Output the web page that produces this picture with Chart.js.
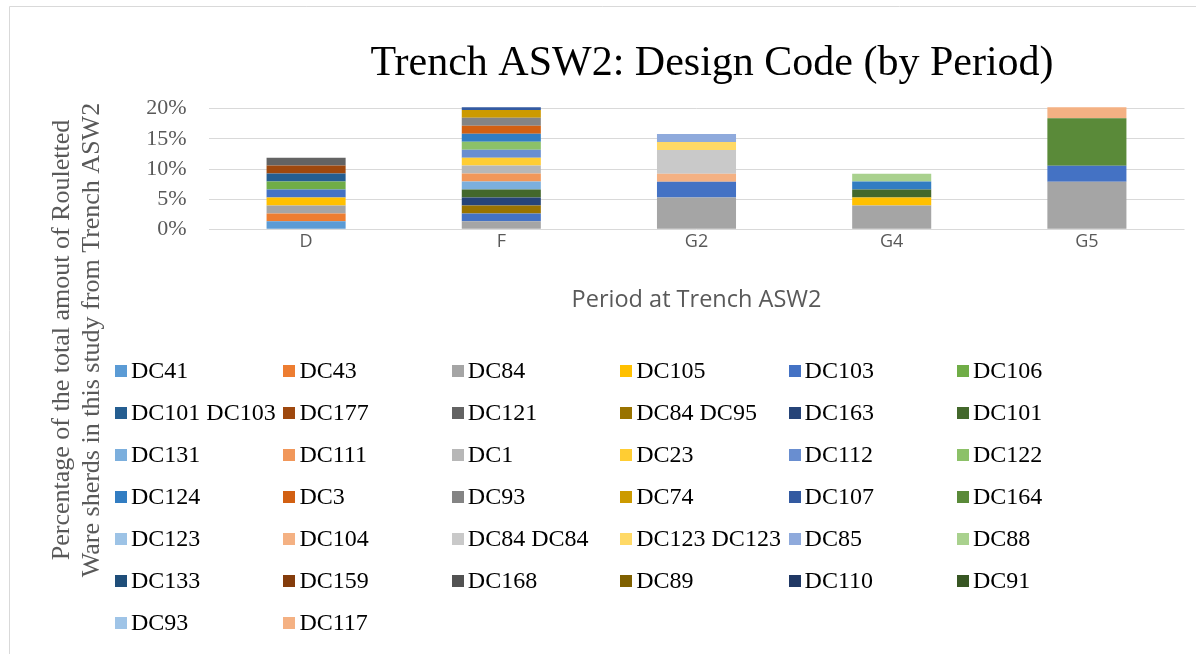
<!DOCTYPE html>
<html>
<head>
<meta charset="utf-8">
<script src="https://cdn.jsdelivr.net/npm/chart.js@4/dist/chart.umd.min.js"></script>
<style>
html,body{margin:0;padding:0;background:#fff;}
canvas{display:block;}
</style>
</head>
<body>
<canvas id="c" width="1196" height="654"></canvas>
<script>
// ---------- data ----------
const chartTitle = 'Trench ASW2: Design Code (by Period)';
const xAxisTitle = 'Period at Trench ASW2';
const yAxisTitleLines = ['Percentage of the total amout of Rouletted', 'Ware sherds in this study from Trench ASW2'];
const categories = ['D', 'F', 'G2', 'G4', 'G5'];
const yTickLabels = ['0%', '5%', '10%', '15%', '20%'];

const seriesNames = [
  'DC41', 'DC43', 'DC84', 'DC105', 'DC103', 'DC106',
  'DC101 DC103', 'DC177', 'DC121', 'DC84 DC95', 'DC163', 'DC101',
  'DC131', 'DC111', 'DC1', 'DC23', 'DC112', 'DC122',
  'DC124', 'DC3', 'DC93', 'DC74', 'DC107', 'DC164',
  'DC123', 'DC104', 'DC84 DC84', 'DC123 DC123', 'DC85', 'DC88',
  'DC133', 'DC159', 'DC168', 'DC89', 'DC110', 'DC91',
  'DC93', 'DC117'
];
const seriesColors = [
  '#5B9BD5', '#ED7D31', '#A5A5A5', '#FFC000', '#4472C4', '#70AD47',
  '#255E91', '#9E480E', '#636363', '#997300', '#264478', '#43682B',
  '#7CAFDD', '#F1975A', '#B7B7B7', '#FFCD33', '#698ED0', '#8CC168',
  '#327DC2', '#D26012', '#848484', '#CC9A00', '#335AA1', '#5A8A39',
  '#9DC3E6', '#F4B183', '#C9C9C9', '#FFD966', '#8FAADC', '#A9D18E',
  '#1F4E79', '#843C0C', '#525252', '#7F6000', '#203864', '#375623',
  '#9FC4E7', '#F4B183'
];
// percentage values per period, one entry per series (same order as seriesNames)
const valuesD = [
  1.32, 1.32, 1.32, 1.32, 1.32, 1.32,
  1.32, 1.32, 1.32, 0, 0, 0,
  0, 0, 0, 0, 0, 0,
  0, 0, 0, 0, 0, 0,
  0, 0, 0, 0, 0, 0,
  0, 0, 0, 0, 0, 0,
  0, 0
];
const valuesF = [
  0, 0, 1.32, 0, 1.32, 0,
  0, 0, 0, 1.32, 1.32, 1.32,
  1.32, 1.32, 1.32, 1.32, 1.32, 1.32,
  1.32, 1.32, 1.32, 1.32, 1.32, 0,
  0, 0, 0, 0, 0, 0,
  0, 0, 0, 0, 0, 0,
  0, 0
];
const valuesG2 = [
  0, 0, 5.26, 0, 2.63, 0,
  0, 0, 0, 0, 0, 0,
  0, 0, 0, 0, 0, 0,
  0, 0, 0, 0, 0, 0,
  0, 1.32, 3.95, 1.32, 1.32, 0,
  0, 0, 0, 0, 0, 0,
  0, 0
];
const valuesG4 = [
  0, 0, 3.95, 1.32, 0, 0,
  0, 0, 0, 0, 0, 1.32,
  0, 0, 0, 0, 0, 0,
  1.32, 0, 0, 0, 0, 0,
  0, 0, 0, 0, 0, 1.32,
  0, 0, 0, 0, 0, 0,
  0, 0
];
const valuesG5 = [
  0, 0, 7.89, 0, 2.63, 0,
  0, 0, 0, 0, 0, 0,
  0, 0, 0, 0, 0, 0,
  0, 0, 0, 0, 0, 7.89,
  0, 0, 0, 0, 0, 0,
  0, 0, 0, 0, 0, 0,
  0, 2.63
];
const periodValues = [valuesD, valuesF, valuesG2, valuesG4, valuesG5];

// ---------- build datasets ----------
const datasets = seriesNames.map((name, i) => ({
  label: name,
  data: periodValues.map(arr => arr[i] === 0 ? null : arr[i]),
  backgroundColor: seriesColors[i],
  borderWidth: 0,
  barPercentage: 0.405,
  categoryPercentage: 1.0,
  clip: {left: 0, right: 0, bottom: 0, top: 1.5}
}));

const SERIF = '"Liberation Serif", "Times New Roman", serif';
const SANS = '"Open Sans", "Noto Sans", sans-serif';

const decor = {
  id: 'decor',
  beforeDraw(chart) {
    const ctx = chart.ctx;
    ctx.save();
    ctx.fillStyle = '#ffffff';
    ctx.fillRect(0, 0, chart.width, chart.height);
    ctx.restore();
  },
  afterDraw(chart) {
    const ctx = chart.ctx;
    ctx.save();
    // frame
    ctx.strokeStyle = '#D9D9D9';
    ctx.lineWidth = 1;
    ctx.beginPath();
    ctx.moveTo(9.5, chart.height);
    ctx.lineTo(9.5, 6.5);
    ctx.lineTo(chart.width, 6.5);
    ctx.stroke();

    // title
    ctx.fillStyle = '#000000';
    ctx.font = '42px ' + SERIF;
    ctx.textAlign = 'center';
    ctx.textBaseline = 'alphabetic';
    ctx.fillText(chartTitle, 712, 75);

    // y axis title (two lines, rotated)
    ctx.fillStyle = '#595959';
    ctx.font = '26px ' + SERIF;
    ctx.textBaseline = 'middle';
    const yx = [62, 92];
    yAxisTitleLines.forEach((line, k) => {
      ctx.save();
      ctx.translate(yx[k], 340);
      ctx.rotate(-Math.PI / 2);
      ctx.fillText(line, 0, 0);
      ctx.restore();
    });

    // legend grid
    ctx.font = '24px ' + SERIF;
    ctx.textAlign = 'left';
    ctx.textBaseline = 'middle';
    const cols = 6, x0 = 115, dx = 168.4, y0 = 370.5, dy = 42.1;
    chart.data.datasets.forEach((ds, i) => {
      const c = i % cols, r = Math.floor(i / cols);
      const x = x0 + c * dx, y = y0 + r * dy;
      ctx.fillStyle = ds.backgroundColor;
      ctx.fillRect(Math.round(x), Math.round(y - 6), 12, 12);
      ctx.fillStyle = '#000000';
      ctx.fillText(ds.label, x + 16, y + 1);
    });
    ctx.restore();
  }
};

new Chart(document.getElementById('c'), {
  type: 'bar',
  data: { labels: categories, datasets: datasets },
  plugins: [decor],
  options: {
    responsive: false,
    animation: false,
    devicePixelRatio: 1,
    layout: { padding: { left: 0, right: 11.5, top: 108.7, bottom: 0 } },
    plugins: {
      legend: { display: false },
      title: { display: false },
      tooltip: { enabled: false }
    },
    scales: {
      x: {
        stacked: true,
        grid: { display: false, drawTicks: false },
        border: { display: false },
        ticks: { color: '#595959', font: { family: SANS, size: 18 }, padding: 2 },
        title: {
          display: true,
          text: xAxisTitle,
          color: '#595959',
          font: { family: SANS, size: 23.5 },
          padding: { top: 0, bottom: 340 }
        },
        afterFit(scale) { scale.height = 654 - 229.3; }
      },
      y: {
        stacked: true,
        min: 0,
        max: 20,
        grid: { color: '#D9D9D9', lineWidth: 1, drawTicks: false },
        border: { display: false },
        ticks: {
          stepSize: 5,
          padding: 22,
          color: '#595959',
          font: { family: SERIF, size: 22 },
          callback: (v, idx) => yTickLabels[idx]
        },
        afterFit(scale) { scale.width = 208.5; }
      }
    }
  }
});
</script>
</body>
</html>
